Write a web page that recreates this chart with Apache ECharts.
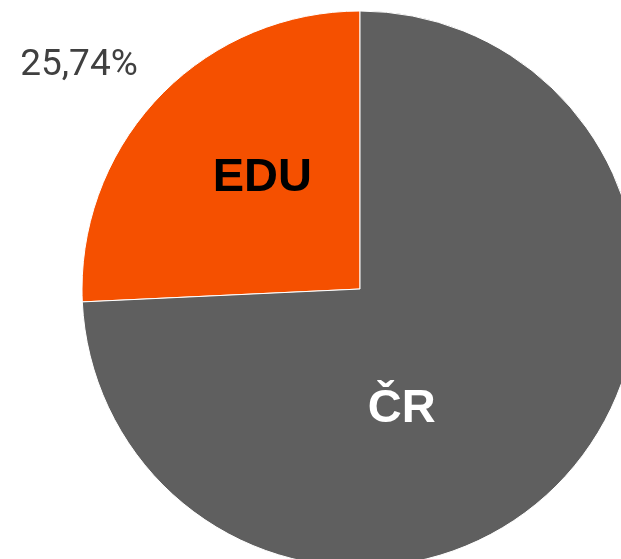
<!DOCTYPE html>
<html><head><meta charset="utf-8">
<script src="https://cdn.jsdelivr.net/npm/echarts@6/dist/echarts.min.js"></script>
<style>html,body{margin:0;padding:0;background:#fff}#c{width:621px;height:559px}</style>
</head><body><div id="c"></div>
<script>
const categories = ['EDU', 'ČR'];
const values = [25.74, 74.26];
const colors = ['#F55000', '#5F5F5F'];
const labelColors = ['#000000', '#FFFFFF'];

const chart = echarts.init(document.getElementById('c'), null, {renderer: 'canvas'});
const data = categories.map((c, i) => ({
  name: c, value: values[i],
  itemStyle: {color: colors[i]},
  label: {color: labelColors[i]}
}));
const nameShift = [[5, -13], [-61, 22]];
chart.setOption({
  animation: false,
  series: [{
    type: 'pie',
    center: [360, 289],
    radius: 278,
    startAngle: 90,
    clockwise: false,
    data: data,
    itemStyle: {borderColor: '#ffffff', borderWidth: 1},
    label: {
      position: 'inside',
      formatter: '{b}',
      fontFamily: 'Liberation Sans, Arial, sans-serif',
      fontWeight: 'bold',
      fontSize: 47
    },
    labelLayout: p => ({dx: nameShift[p.dataIndex][0], dy: nameShift[p.dataIndex][1]}),
    silent: true
  }, {
    type: 'pie',
    center: [360, 289],
    radius: 278,
    startAngle: 90,
    clockwise: false,
    data: categories.map((c, i) => ({name: c, value: values[i],
      label: {show: i === 0}})),
    itemStyle: {color: 'rgba(0,0,0,0)'},
    label: {
      position: 'outside',
      alignTo: 'none',
      overflow: 'none',
      width: 300,
      formatter: p => p.value.toFixed(2).replace('.', ',') + '%',
      color: '#404040',
      fontFamily: 'Roboto, sans-serif',
      fontSize: 37
    },
    labelLine: {show: false},
    labelLayout: () => ({x: 79, y: 66, align: 'center', verticalAlign: 'middle'}),
    silent: true
  }]
});
</script></body></html>
